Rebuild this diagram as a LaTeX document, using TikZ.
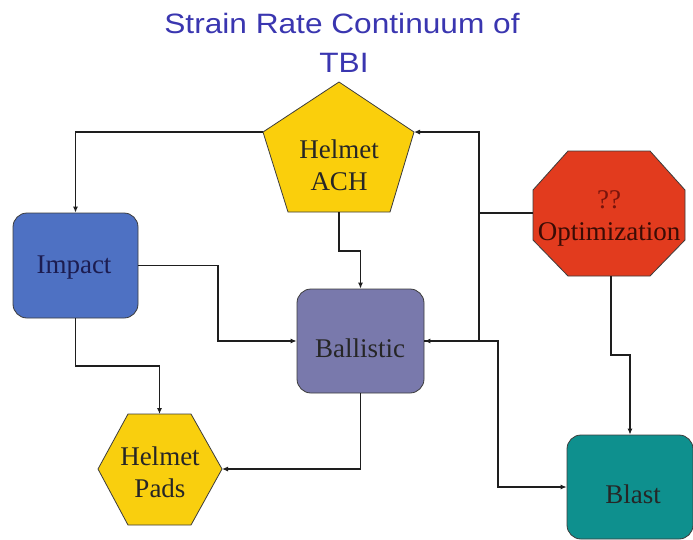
\documentclass[tikz,border=0pt]{standalone}
\usepackage{fontspec}
\usepackage{graphicx}
\setmainfont{Liberation Serif}
\newfontfamily\titlefont{Liberation Sans}
\usetikzlibrary{arrows.meta}
\definecolor{titlec}{RGB}{58,54,176}
\definecolor{achc}{RGB}{250,207,12}
\definecolor{padsc}{RGB}{249,207,14}
\definecolor{impactc}{RGB}{78,113,195}
\definecolor{ballc}{RGB}{121,121,172}
\definecolor{optc}{RGB}{226,59,30}
\definecolor{blastc}{RGB}{14,144,142}
\definecolor{borderc}{RGB}{60,60,60}
\definecolor{linec}{RGB}{30,30,30}
\definecolor{impacttext}{RGB}{28,28,80}
\definecolor{opttext}{RGB}{58,12,5}
\definecolor{qtext}{RGB}{120,20,12}
\begin{document}
\begin{tikzpicture}[x=1pt,y=-1pt,
  shapeline/.style={draw=borderc, line width=0.8pt},
  boxnode/.style={shapeline, rounded corners=14pt, inner sep=0pt},
  lbl/.style={anchor=base, inner sep=0pt, text=black!85, font=\fontsize{27}{32}\selectfont},
  ttl/.style={anchor=base, inner sep=0pt, text=titlec, font=\titlefont\fontsize{28}{34}\selectfont},
  conn/.style={draw=linec, line width=1.1pt, -{Latex[length=6pt,width=5pt]}},
  plain/.style={draw=linec, line width=1.1pt}]
\useasboundingbox (0,0) rectangle (693,539);
\fill[white] (0,0) rectangle (693,539);

% title
\node[ttl] (t1) at (342,33) {\scalebox{1.13}[1]{Strain Rate Continuum of}};
\node[ttl] (t2) at (344,72) {\scalebox{1.13}[1]{TBI}};

% Helmet ACH pentagon
\filldraw[shapeline, fill=achc] (339,82) -- (414,132) -- (390,212) -- (288,212) -- (263,132) -- cycle;
\coordinate (achL) at (263,132);
\coordinate (achR) at (414,132);
\coordinate (achB) at (339,212);
\node[lbl] (ach1) at (339,158) {Helmet};
\node[lbl] (ach2) at (339,190) {ACH};

% Optimization octagon
\filldraw[shapeline, fill=optc] (568,151) -- (650,151) -- (685,190) -- (685,240) -- (650,276) -- (568,276) -- (533,240) -- (533,190) -- cycle;
\coordinate (optL) at (533,213);
\coordinate (optB) at (611,276);
\node[lbl, text=qtext] (opt1) at (609,208) {??};
\node[lbl, text=opttext] (opt2) at (609,240) {Optimization};

% Helmet Pads hexagon
\filldraw[shapeline, fill=padsc] (128,414) -- (191,414) -- (222,469) -- (191,525) -- (128,525) -- (98,469) -- cycle;
\coordinate (padsT) at (159.5,414);
\coordinate (padsR) at (222,469);
\node[lbl] (pads1) at (160,465) {Helmet};
\node[lbl] (pads2) at (160,497) {Pads};

% rounded boxes
\node[boxnode, fill=impactc, minimum width=125pt, minimum height=105pt] (impact) at (75.5,265.5) {};
\node[lbl, text=impacttext] (impactT) at (74,273) {Impact};
\node[boxnode, fill=ballc, minimum width=127pt, minimum height=104pt] (ball) at (360.5,341) {};
\node[lbl] (ballT) at (360,357) {Ballistic};
\node[boxnode, fill=blastc, minimum width=126pt, minimum height=104pt] (blast) at (630,487) {};
\node[lbl] (blastT) at (633,503) {Blast};

% connectors
\coordinate (j1) at (479,213);
\draw[conn] (achL) -| (impact.north);
\draw[conn] (optL) -- (j1) |- (achR);
\draw[conn] (j1) |- (ball.east);
\draw[conn] (ball.east) -- (498,341) |- (blast.west);
\draw[conn] (impact.east) -- (218,265.5) |- (ball.west);
\draw[conn] (impact.south) -- (75.5,366) -| (padsT);
\draw[conn] (ball.south) |- (padsR);
\draw[conn] (achB) -- (339,251) -| (ball.north);
\draw[conn] (optB) -- (611,355) -| (blast.north);
\end{tikzpicture}
\end{document}
